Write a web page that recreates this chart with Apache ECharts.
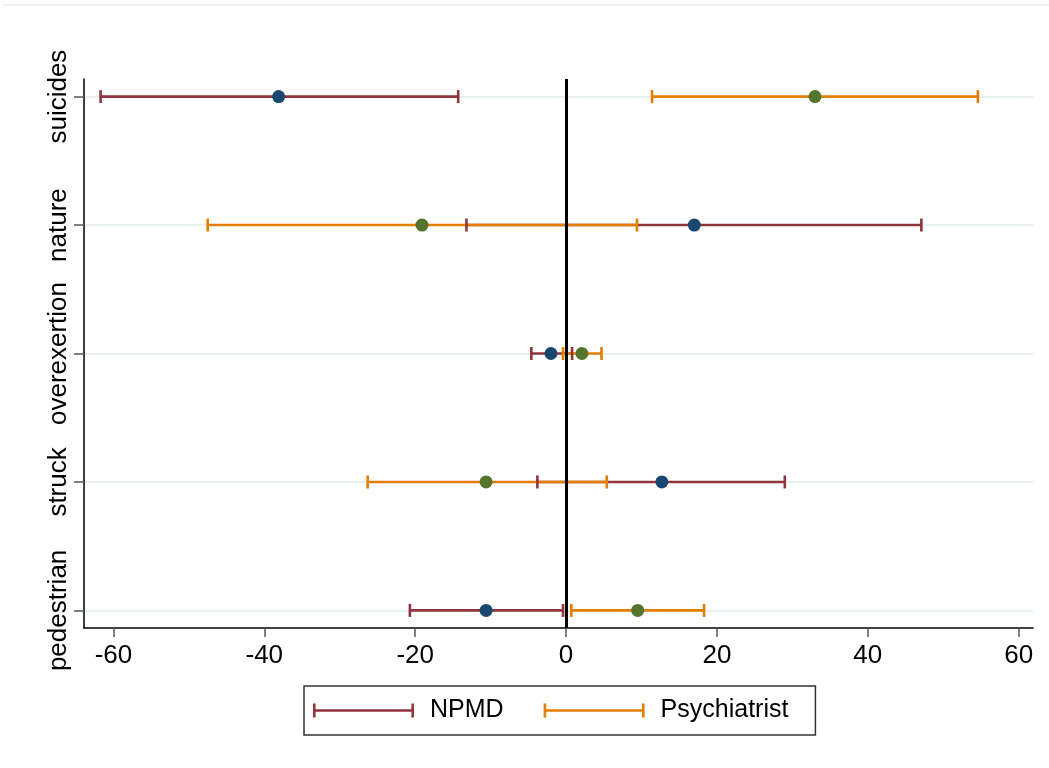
<!DOCTYPE html>
<html>
<head>
<meta charset="utf-8">
<script src="https://cdn.jsdelivr.net/npm/echarts@6/dist/echarts.min.js"></script>
<style>html,body{margin:0;padding:0;background:#fff}#c{width:1049px;height:768px}</style>
</head>
<body>
<div id="c"></div>
<script>
// Categories, bottom to top (y positions 1..5)
var categories = ['pedestrian', 'struck', 'overexertion', 'nature', 'suicides'];
// NPMD estimates and confidence intervals
var npmdPoint = [-10.6, 12.7, -2.0, 17.0, -38.1];
var npmdLow   = [-20.7, -3.8, -4.6, -13.2, -61.7];
var npmdHigh  = [-0.4, 29.0, 0.8, 47.1, -14.3];
// Psychiatrist estimates and confidence intervals
var psyPoint = [9.5, -10.6, 2.1, -19.1, 33.0];
var psyLow   = [0.7, -26.3, -0.4, -47.5, 11.4];
var psyHigh  = [18.3, 5.4, 4.7, 9.4, 54.6];
// Tick labels
var xTicks = [-60, -40, -20, 0, 20, 40, 60];
var yTicks = [1, 2, 3, 4, 5];

var C_NPMD = '#90353b', C_PSY = '#e37e00', C_NAVY = '#1a476f', C_GREEN = '#55752f';
var FONT = '"Liberation Sans", Arial, sans-serif';

function ciData(lo, hi) {
  return categories.map(function (c, i) { return [lo[i], hi[i], i + 1]; });
}
function ptData(p) {
  return categories.map(function (c, i) { return [p[i], i + 1]; });
}
function makeRender(color, capZ) {
  return function (params, api) {
    var a = api.coord([api.value(0), api.value(2)]);
    var b = api.coord([api.value(1), api.value(2)]);
    var h = 6.5;
    var st = { stroke: color, lineWidth: 2.6 };
    return {
      type: 'group',
      children: [
        { type: 'line', z2: 0, shape: { x1: a[0], y1: a[1], x2: b[0], y2: b[1] }, style: st },
        { type: 'line', z2: capZ, shape: { x1: a[0], y1: a[1] - h, x2: a[0], y2: a[1] + h }, style: st },
        { type: 'line', z2: capZ, shape: { x1: b[0], y1: b[1] - h, x2: b[0], y2: b[1] + h }, style: st }
      ]
    };
  };
}

var legendIcon = 'path://M0,0h2.6v14h-2.6z M2.6,5.7h95.8v2.6h-95.8z M98.4,0h2.6v14h-2.6z';

var chart = echarts.init(document.getElementById('c'), null, { renderer: 'canvas' });
chart.setOption({
  animation: false,
  backgroundColor: '#fff',
  textStyle: { fontFamily: FONT },
  graphic: [{
    type: 'line', shape: { x1: 3, y1: 5, x2: 1049, y2: 5 },
    style: { stroke: '#e9eef3', lineWidth: 1.5 }, silent: true
  }],
  grid: { left: 84, right: 16, top: 79, bottom: 140, containLabel: false },
  xAxis: {
    type: 'value', min: -63.9, max: 61.9,
    axisLine: { show: true, onZero: false, lineStyle: { color: '#000', width: 1.5 } },
    axisTick: { show: true, length: 9, customValues: xTicks, lineStyle: { color: '#555', width: 1.5 } },
    axisLabel: { customValues: xTicks, fontSize: 26, color: '#000', margin: 15, fontFamily: FONT },
    splitLine: { show: false }
  },
  yAxis: {
    type: 'value', min: 0.863, max: 5.137,
    axisLine: { show: true, onZero: false, lineStyle: { color: '#000', width: 1.5 } },
    axisTick: { show: true, length: 10, customValues: yTicks, lineStyle: { color: '#555', width: 1.5 } },
    axisLabel: {
      customValues: yTicks, rotate: 90, fontSize: 26, color: '#000', margin: 12, fontFamily: FONT,
      formatter: function (v) { return categories[Math.round(v) - 1]; }
    },
    splitLine: { show: true, lineStyle: { color: '#e8eff2', width: 2 } }
  },
  legend: {
    left: 304, top: 686,
    orient: 'horizontal',
    padding: [12, 27, 12, 9],
    itemGap: 40,
    itemWidth: 101, itemHeight: 14,
    borderColor: '#333', borderWidth: 1.5,
    textStyle: { fontSize: 25, color: '#000', fontFamily: FONT, padding: [0, 0, 0, 11] },
    data: [
      { name: 'NPMD', icon: legendIcon, itemStyle: { color: C_NPMD } },
      { name: 'Psychiatrist', icon: legendIcon, itemStyle: { color: C_PSY } }
    ]
  },
  series: [
    {
      name: 'NPMD', type: 'custom', color: C_NPMD, z: 2,
      renderItem: makeRender(C_NPMD, 3),
      encode: { x: [0, 1], y: 2 },
      data: ciData(npmdLow, npmdHigh)
    },
    {
      name: 'Psychiatrist', type: 'custom', color: C_PSY, z: 2,
      renderItem: makeRender(C_PSY, 2),
      encode: { x: [0, 1], y: 2 },
      data: ciData(psyLow, psyHigh)
    },
    {
      name: 'NPMD est', type: 'scatter', z: 4, symbol: 'circle', symbolSize: 13,
      itemStyle: { color: C_NAVY, opacity: 1 },
      data: ptData(npmdPoint)
    },
    {
      name: 'Psychiatrist est', type: 'scatter', z: 4, symbol: 'circle', symbolSize: 13,
      itemStyle: { color: C_GREEN, opacity: 1 },
      data: ptData(psyPoint),
      markLine: {
        silent: true, symbol: 'none', z: 6,
        label: { show: false },
        lineStyle: { color: '#000', width: 3, type: 'solid' },
        data: [{ xAxis: 0 }]
      }
    }
  ]
});
</script>
</body>
</html>
